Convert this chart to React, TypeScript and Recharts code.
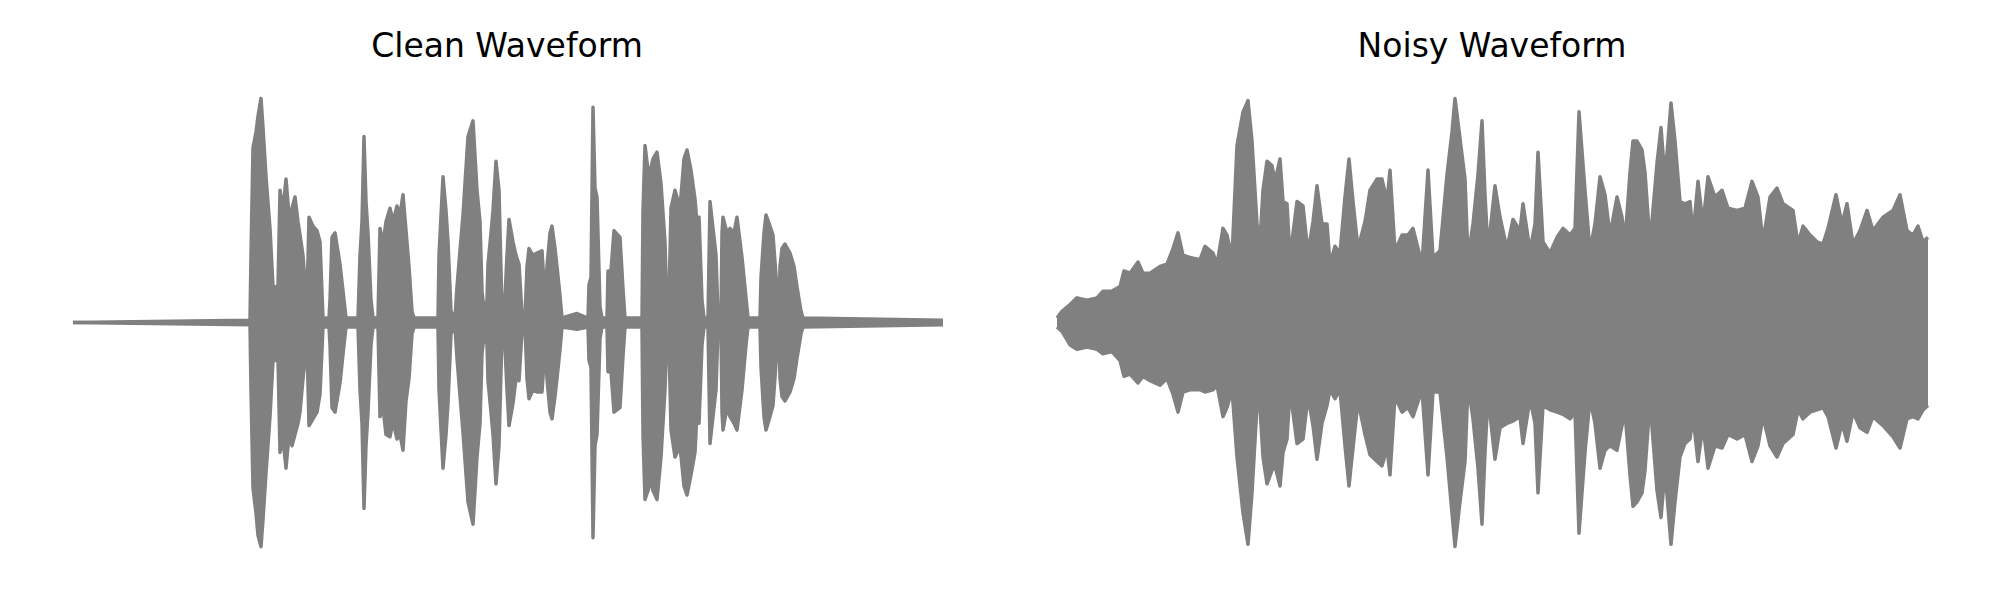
import React from 'react';
import { AreaChart, Area, XAxis, YAxis } from 'recharts';

// envelope of each waveform: time (s), upper and lower peak amplitude (normalised, max = 1)
const cleanTime = [
  0.00, 1.77, 1.78, 1.80, 1.83, 1.85, 1.88, 1.90, 1.93, 1.97,
  2.00, 2.04, 2.05, 2.07, 2.10, 2.13, 2.16, 2.19, 2.22, 2.25,
  2.27, 2.30, 2.33, 2.34, 2.36, 2.40, 2.44, 2.47, 2.50, 2.56,
  2.57, 2.59, 2.62, 2.67, 2.71, 2.73, 2.85, 2.87, 2.89, 2.91,
  2.93, 2.95, 2.98, 3.00, 3.05, 3.07, 3.10, 3.13, 3.17, 3.20,
  3.24, 3.27, 3.30, 3.33, 3.36, 3.39, 3.41, 3.65, 3.66, 3.70,
  3.73, 3.75, 3.78, 3.82, 3.84, 3.90, 3.95, 4.00, 4.04, 4.07,
  4.09, 4.12, 4.14, 4.15, 4.18, 4.20, 4.23, 4.26, 4.29, 4.31,
  4.34, 4.36, 4.40, 4.43, 4.46, 4.49, 4.52, 4.54, 4.56, 4.60,
  4.64, 4.69, 4.72, 4.74, 4.77, 4.79, 4.82, 4.84, 4.87, 4.89,
  5.04, 5.15, 5.16, 5.18, 5.20, 5.22, 5.24, 5.27, 5.29, 5.34,
  5.35, 5.38, 5.41, 5.47, 5.50, 5.52, 5.69, 5.70, 5.72, 5.75,
  5.77, 5.80, 5.84, 5.88, 5.92, 5.94, 5.96, 5.98, 6.02, 6.07,
  6.11, 6.14, 6.18, 6.22, 6.24, 6.26, 6.29, 6.31, 6.35, 6.37,
  6.40, 6.43, 6.45, 6.48, 6.49, 6.50, 6.54, 6.57, 6.61, 6.64,
  6.69, 6.73, 6.75, 6.87, 6.88, 6.91, 6.93, 6.97, 7.00, 7.04,
  7.06, 7.07, 7.09, 7.12, 7.17, 7.21, 7.24, 7.28, 7.30, 8.70,
];

const cleanUpper = [
  0.00, 0.01, 0.30, 0.78, 0.85, 0.92, 1.00, 0.87, 0.65, 0.42,
  0.16, 0.16, 0.16, 0.59, 0.50, 0.64, 0.48, 0.51, 0.56, 0.45,
  0.39, 0.30, 0.12, 0.10, 0.47, 0.43, 0.41, 0.36, 0.02, 0.02,
  0.10, 0.38, 0.40, 0.26, 0.10, 0.02, 0.02, 0.30, 0.45, 0.83,
  0.54, 0.40, 0.10, 0.02, 0.02, 0.42, 0.35, 0.45, 0.51, 0.45,
  0.52, 0.48, 0.57, 0.41, 0.25, 0.05, 0.02, 0.02, 0.30, 0.65,
  0.50, 0.36, 0.05, 0.02, 0.16, 0.48, 0.83, 0.90, 0.59, 0.45,
  0.14, 0.02, 0.10, 0.26, 0.40, 0.50, 0.72, 0.59, 0.05, 0.02,
  0.30, 0.46, 0.36, 0.30, 0.26, 0.04, 0.02, 0.25, 0.33, 0.30,
  0.31, 0.32, 0.10, 0.25, 0.40, 0.43, 0.33, 0.25, 0.12, 0.02,
  0.04, 0.02, 0.17, 0.20, 0.96, 0.60, 0.56, 0.07, 0.02, 0.02,
  0.23, 0.23, 0.41, 0.38, 0.15, 0.02, 0.02, 0.50, 0.79, 0.68,
  0.67, 0.73, 0.76, 0.62, 0.36, 0.05, 0.10, 0.51, 0.59, 0.51,
  0.73, 0.77, 0.68, 0.55, 0.44, 0.47, 0.10, 0.02, 0.02, 0.54,
  0.42, 0.30, 0.03, 0.02, 0.40, 0.47, 0.40, 0.42, 0.40, 0.47,
  0.29, 0.11, 0.02, 0.02, 0.20, 0.40, 0.48, 0.43, 0.39, 0.15,
  0.03, 0.25, 0.33, 0.35, 0.31, 0.25, 0.16, 0.05, 0.02, 0.01,
];

const cleanLower = [
  0.00, 0.01, 0.30, 0.74, 0.85, 0.95, 1.00, 0.88, 0.67, 0.42,
  0.17, 0.17, 0.16, 0.58, 0.52, 0.65, 0.50, 0.55, 0.50, 0.45,
  0.40, 0.25, 0.12, 0.10, 0.46, 0.43, 0.40, 0.32, 0.02, 0.02,
  0.10, 0.38, 0.40, 0.27, 0.10, 0.02, 0.02, 0.30, 0.45, 0.83,
  0.55, 0.40, 0.10, 0.02, 0.02, 0.42, 0.38, 0.50, 0.51, 0.44,
  0.52, 0.50, 0.57, 0.35, 0.25, 0.05, 0.02, 0.02, 0.30, 0.65,
  0.50, 0.36, 0.05, 0.02, 0.16, 0.49, 0.80, 0.90, 0.60, 0.45,
  0.14, 0.02, 0.10, 0.26, 0.40, 0.50, 0.72, 0.55, 0.05, 0.02,
  0.30, 0.46, 0.36, 0.25, 0.26, 0.04, 0.02, 0.25, 0.34, 0.30,
  0.31, 0.31, 0.10, 0.25, 0.40, 0.43, 0.33, 0.25, 0.12, 0.02,
  0.03, 0.02, 0.17, 0.20, 0.96, 0.55, 0.50, 0.07, 0.02, 0.02,
  0.22, 0.22, 0.40, 0.38, 0.15, 0.02, 0.02, 0.50, 0.79, 0.75,
  0.70, 0.75, 0.79, 0.60, 0.30, 0.05, 0.10, 0.48, 0.60, 0.55,
  0.73, 0.77, 0.68, 0.58, 0.40, 0.45, 0.10, 0.02, 0.02, 0.54,
  0.42, 0.30, 0.03, 0.02, 0.40, 0.48, 0.38, 0.42, 0.45, 0.48,
  0.30, 0.10, 0.02, 0.02, 0.20, 0.42, 0.48, 0.42, 0.37, 0.12,
  0.03, 0.25, 0.33, 0.35, 0.31, 0.25, 0.16, 0.05, 0.02, 0.01,
];

const noisyTime = [
  0.00, 0.05, 0.13, 0.20, 0.30, 0.40, 0.46, 0.55, 0.63, 0.67,
  0.73, 0.81, 0.86, 0.93, 1.03, 1.10, 1.16, 1.21, 1.26, 1.33,
  1.43, 1.48, 1.56, 1.60, 1.66, 1.70, 1.75, 1.80, 1.86, 1.91,
  1.95, 2.00, 2.03, 2.06, 2.10, 2.15, 2.18, 2.23, 2.26, 2.30,
  2.33, 2.40, 2.46, 2.51, 2.56, 2.60, 2.65, 2.70, 2.73, 2.78,
  2.83, 2.88, 2.92, 2.96, 3.01, 3.08, 3.13, 3.20, 3.25, 3.30,
  3.33, 3.38, 3.45, 3.51, 3.56, 3.65, 3.71, 3.76, 3.83, 3.90,
  3.95, 3.98, 4.03, 4.08, 4.11, 4.16, 4.21, 4.25, 4.28, 4.31,
  4.38, 4.43, 4.50, 4.56, 4.63, 4.66, 4.73, 4.78, 4.81, 4.86,
  4.93, 5.00, 5.06, 5.13, 5.18, 5.22, 5.28, 5.33, 5.38, 5.43,
  5.48, 5.53, 5.60, 5.65, 5.68, 5.73, 5.76, 5.80, 5.85, 5.88,
  5.93, 6.00, 6.04, 6.08, 6.14, 6.18, 6.23, 6.28, 6.33, 6.36,
  6.41, 6.46, 6.51, 6.58, 6.65, 6.71, 6.80, 6.88, 6.95, 7.01,
  7.06, 7.13, 7.20, 7.26, 7.36, 7.41, 7.46, 7.53, 7.60, 7.66,
  7.71, 7.79, 7.85, 7.90, 7.96, 8.03, 8.10, 8.16, 8.26, 8.36,
  8.43, 8.50, 8.56, 8.61, 8.66, 8.71,
];

const noisyUpper = [
  0.02, 0.05, 0.08, 0.11, 0.10, 0.11, 0.14, 0.14, 0.16, 0.23,
  0.22, 0.27, 0.22, 0.22, 0.25, 0.26, 0.33, 0.40, 0.30, 0.29,
  0.28, 0.34, 0.31, 0.26, 0.42, 0.39, 0.29, 0.79, 0.94, 0.99,
  0.81, 0.44, 0.36, 0.59, 0.72, 0.70, 0.63, 0.73, 0.54, 0.53,
  0.29, 0.54, 0.52, 0.31, 0.45, 0.61, 0.44, 0.44, 0.26, 0.34,
  0.31, 0.56, 0.73, 0.54, 0.33, 0.45, 0.59, 0.64, 0.64, 0.54,
  0.68, 0.32, 0.39, 0.39, 0.42, 0.26, 0.68, 0.29, 0.32, 0.66,
  0.85, 1.00, 0.82, 0.64, 0.29, 0.44, 0.66, 0.90, 0.57, 0.32,
  0.61, 0.47, 0.33, 0.46, 0.41, 0.53, 0.32, 0.44, 0.76, 0.36,
  0.31, 0.38, 0.42, 0.39, 0.42, 0.94, 0.59, 0.32, 0.44, 0.65,
  0.57, 0.39, 0.56, 0.47, 0.36, 0.67, 0.81, 0.81, 0.77, 0.67,
  0.35, 0.71, 0.87, 0.64, 0.98, 0.81, 0.54, 0.53, 0.54, 0.39,
  0.63, 0.44, 0.65, 0.56, 0.59, 0.51, 0.50, 0.51, 0.63, 0.56,
  0.36, 0.56, 0.60, 0.53, 0.50, 0.35, 0.43, 0.39, 0.36, 0.35,
  0.42, 0.57, 0.44, 0.53, 0.35, 0.41, 0.50, 0.41, 0.47, 0.50,
  0.57, 0.41, 0.39, 0.43, 0.36, 0.38,
];

const noisyLower = [
  0.02, 0.04, 0.10, 0.12, 0.11, 0.12, 0.14, 0.13, 0.17, 0.24,
  0.23, 0.27, 0.24, 0.26, 0.28, 0.25, 0.32, 0.40, 0.31, 0.30,
  0.30, 0.31, 0.30, 0.28, 0.42, 0.38, 0.30, 0.60, 0.85, 0.99,
  0.76, 0.37, 0.38, 0.60, 0.72, 0.66, 0.64, 0.73, 0.58, 0.52,
  0.30, 0.54, 0.52, 0.33, 0.46, 0.61, 0.45, 0.37, 0.30, 0.34,
  0.30, 0.55, 0.73, 0.56, 0.35, 0.50, 0.59, 0.62, 0.64, 0.56,
  0.68, 0.33, 0.40, 0.38, 0.42, 0.30, 0.68, 0.31, 0.31, 0.60,
  0.85, 1.00, 0.80, 0.62, 0.28, 0.43, 0.65, 0.90, 0.58, 0.33,
  0.61, 0.47, 0.45, 0.44, 0.42, 0.54, 0.34, 0.45, 0.76, 0.37,
  0.39, 0.40, 0.41, 0.43, 0.40, 0.94, 0.58, 0.34, 0.45, 0.65,
  0.57, 0.55, 0.57, 0.46, 0.40, 0.68, 0.82, 0.80, 0.76, 0.66,
  0.35, 0.75, 0.87, 0.66, 0.99, 0.80, 0.60, 0.54, 0.52, 0.42,
  0.62, 0.46, 0.65, 0.55, 0.56, 0.50, 0.52, 0.50, 0.62, 0.55,
  0.42, 0.55, 0.60, 0.54, 0.50, 0.39, 0.43, 0.40, 0.39, 0.38,
  0.42, 0.56, 0.45, 0.53, 0.40, 0.47, 0.49, 0.42, 0.46, 0.51,
  0.56, 0.43, 0.42, 0.43, 0.39, 0.37,
];

const titles = ['Clean Waveform', 'Noisy Waveform'];

const GRAY = '#808080';
const FONT = '"DejaVu Sans", sans-serif';

const toRows = (time: number[], upper: number[], lower: number[]) =>
  time.map((t, i) => ({ t, range: [-lower[i], upper[i]] }));

const cleanData = toRows(cleanTime, cleanUpper, cleanLower);
const noisyData = toRows(noisyTime, noisyUpper, noisyLower);

const PAD = 6;

const Wave = ({ data, left, width, end }: { data: any[]; left: number; width: number; end: number }) => (
  <div style={{ position: 'absolute', left: left - PAD, top: 70 }}>
    <AreaChart
      width={width + PAD * 2}
      height={505}
      data={data}
      margin={{ top: PAD, right: PAD, bottom: PAD, left: PAD }}
    >
      <XAxis dataKey="t" type="number" domain={[0, end]} hide />
      <YAxis type="number" domain={[-1.1, 1.1]} hide />
      <Area
        type="linear"
        dataKey="range"
        stroke={GRAY}
        strokeWidth={3.5}
        strokeLinejoin="round"
        fill={GRAY}
        fillOpacity={1}
        dot={false}
        activeDot={false}
        isAnimationActive={false}
      />
    </AreaChart>
  </div>
);

export default function App() {
  return (
    <div
      style={{
        position: 'absolute',
        left: 0,
        top: 0,
        width: 2000,
        height: 600,
        background: '#ffffff',
        overflow: 'hidden',
      }}
    >
      <svg width={2000} height={80} style={{ position: 'absolute', left: 0, top: 0 }}>
        <text x={507} y={57} textAnchor="middle" fontSize={33} fontFamily={FONT} fill="#000">
          {titles[0]}
        </text>
        <text x={1492} y={57} textAnchor="middle" fontSize={33} fontFamily={FONT} fill="#000">
          {titles[1]}
        </text>
      </svg>
      <Wave data={cleanData} left={73} width={870} end={8.7} />
      <Wave data={noisyData} left={1057} width={871} end={8.71} />
    </div>
  );
}
